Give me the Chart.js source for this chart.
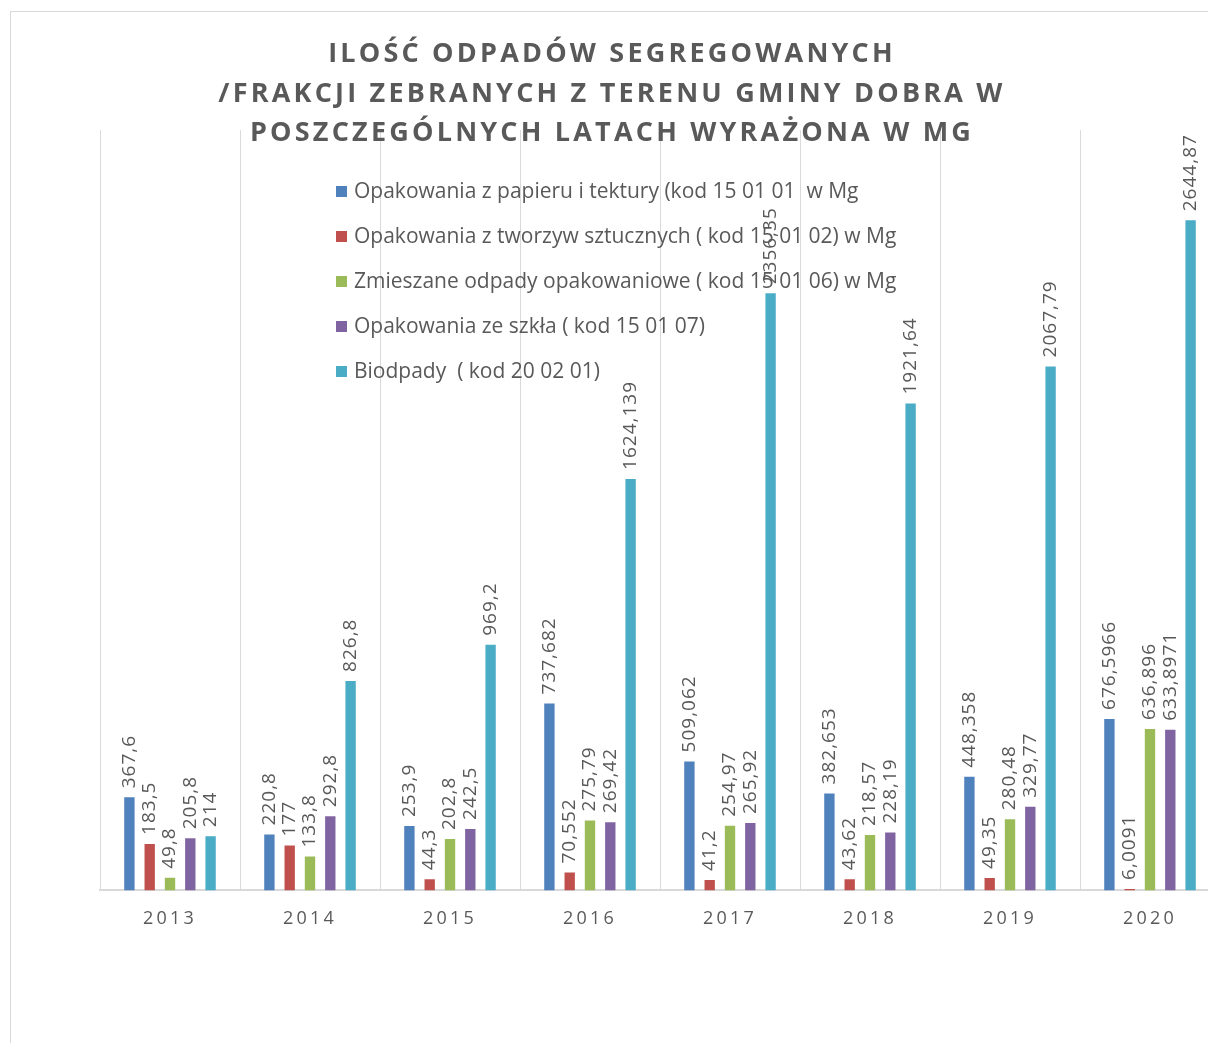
<!DOCTYPE html>
<html lang="pl">
<head>
<meta charset="utf-8">
<script src="https://cdn.jsdelivr.net/npm/chart.js@4.4.1/dist/chart.umd.min.js"></script>
<style>
  html, body { margin: 0; padding: 0; background: #fff; overflow: hidden; }
  #ramka { position: absolute; left: 10px; top: 11px; border-left: 1px solid #d9d9d9; border-top: 1px solid #d9d9d9; }
  canvas { display: block; }
</style>
</head>
<body>
<div id="ramka"><canvas id="wykres" width="1240" height="1040"></canvas></div>
<script>
const lata = ['2013', '2014', '2015', '2016', '2017', '2018', '2019', '2020'];

const nazwySerii = [
  'Opakowania z papieru i tektury (kod 15 01 01  w Mg',
  'Opakowania z tworzyw sztucznych ( kod 15 01 02) w Mg',
  'Zmieszane odpady opakowaniowe ( kod 15 01 06) w Mg',
  'Opakowania ze szkła ( kod 15 01 07)',
  'Biodpady  ( kod 20 02 01)'
];

const papier = [367.6, 220.8, 253.9, 737.682, 509.062, 382.653, 448.358, 676.5966];
const tworzywa = [183.5, 177, 44.3, 70.552, 41.2, 43.62, 49.35, 6.0091];
const zmieszane = [49.8, 133.8, 202.8, 275.79, 254.97, 218.57, 280.48, 636.896];
const szklo = [205.8, 292.8, 242.5, 269.42, 265.92, 228.19, 329.77, 633.8971];
const bio = [214, 826.8, 969.2, 1624.139, 2356.35, 1921.64, 2067.79, 2644.87];

const kolory = ['#4F81BD', '#C0504D', '#9BBB59', '#8064A2', '#4BACC6'];
const szary = '#595959';

// rozstaw liter jak w excelu (tytul i lata)
const rozstawLiter = {
  id: 'rozstawLiter',
  beforeDraw(chart) {
    chart.ctx.letterSpacing = '3.2px';
  },
  afterLayout(chart) {
    // tytul wysrodkowany na calej szerokosci ramki, nie obszaru wykresu
    chart.titleBlock.left = 0;
    chart.titleBlock.right = 1202;
  }
};

// legenda nalozona na obszar wykresu
const legendaWewnatrz = {
  id: 'legendaWewnatrz',
  beforeDatasetsDraw(chart) {
    const ctx = chart.ctx;
    ctx.save();
    ctx.letterSpacing = '0px';
    ctx.font = '21px "Open Sans"';
    ctx.textBaseline = 'middle';
    ctx.textAlign = 'left';
    chart.data.datasets.forEach((ds, i) => {
      const y = 180 + i * 45;
      ctx.fillStyle = ds.backgroundColor;
      ctx.fillRect(325, y - 6, 11, 11);
      ctx.fillStyle = szary;
      ctx.fillText(ds.label, 343, y);
    });
    ctx.restore();
  }
};

// etykiety wartosci pionowo nad slupkami
const etykiety = {
  id: 'etykiety',
  afterDatasetsDraw(chart) {
    const ctx = chart.ctx;
    ctx.save();
    ctx.letterSpacing = '1px';
    ctx.font = '19px "Open Sans"';
    ctx.fillStyle = szary;
    ctx.textAlign = 'left';
    ctx.textBaseline = 'middle';
    chart.data.datasets.forEach((ds, i) => {
      chart.getDatasetMeta(i).data.forEach((bar, j) => {
        const tekst = String(ds.data[j]).replace('.', ',');
        ctx.save();
        ctx.translate(bar.x, bar.y - 9);
        ctx.rotate(-Math.PI / 2);
        ctx.fillText(tekst, 0, 0);
        ctx.restore();
      });
    });
    ctx.restore();
  }
};

const serie = [papier, tworzywa, zmieszane, szklo, bio];

new Chart(document.getElementById('wykres'), {
  type: 'bar',
  data: {
    labels: lata,
    datasets: serie.map((dane, i) => ({
      label: nazwySerii[i],
      data: dane,
      backgroundColor: kolory[i],
      borderWidth: 0,
      categoryPercentage: 0.725,
      barPercentage: 0.51
    }))
  },
  options: {
    responsive: false,
    animation: false,
    devicePixelRatio: 1,
    layout: {
      padding: { left: 89, right: 31, top: 0, bottom: 104 }
    },
    plugins: {
      legend: { display: false },
      tooltip: { enabled: false },
      title: {
        display: true,
        text: ['ILOŚĆ ODPADÓW SEGREGOWANYCH', '/FRAKCJI ZEBRANYCH Z TERENU GMINY DOBRA W', 'POSZCZEGÓLNYCH LATACH WYRAŻONA W MG'],
        color: szary,
        font: { family: '"Open Sans"', size: 27, weight: 'bold', lineHeight: 1.46 },
        padding: { top: 23, bottom: -23 }
      }
    },
    scales: {
      x: {
        grid: { color: '#d9d9d9', lineWidth: 1, drawTicks: false },
        border: { color: '#d9d9d9', width: 2 },
        ticks: { color: szary, font: { family: '"Open Sans"', size: 18 }, padding: 18 }
      },
      y: {
        display: false,
        min: 0,
        max: 3000
      }
    }
  },
  plugins: [rozstawLiter, legendaWewnatrz, etykiety]
});
</script>
</body>
</html>
